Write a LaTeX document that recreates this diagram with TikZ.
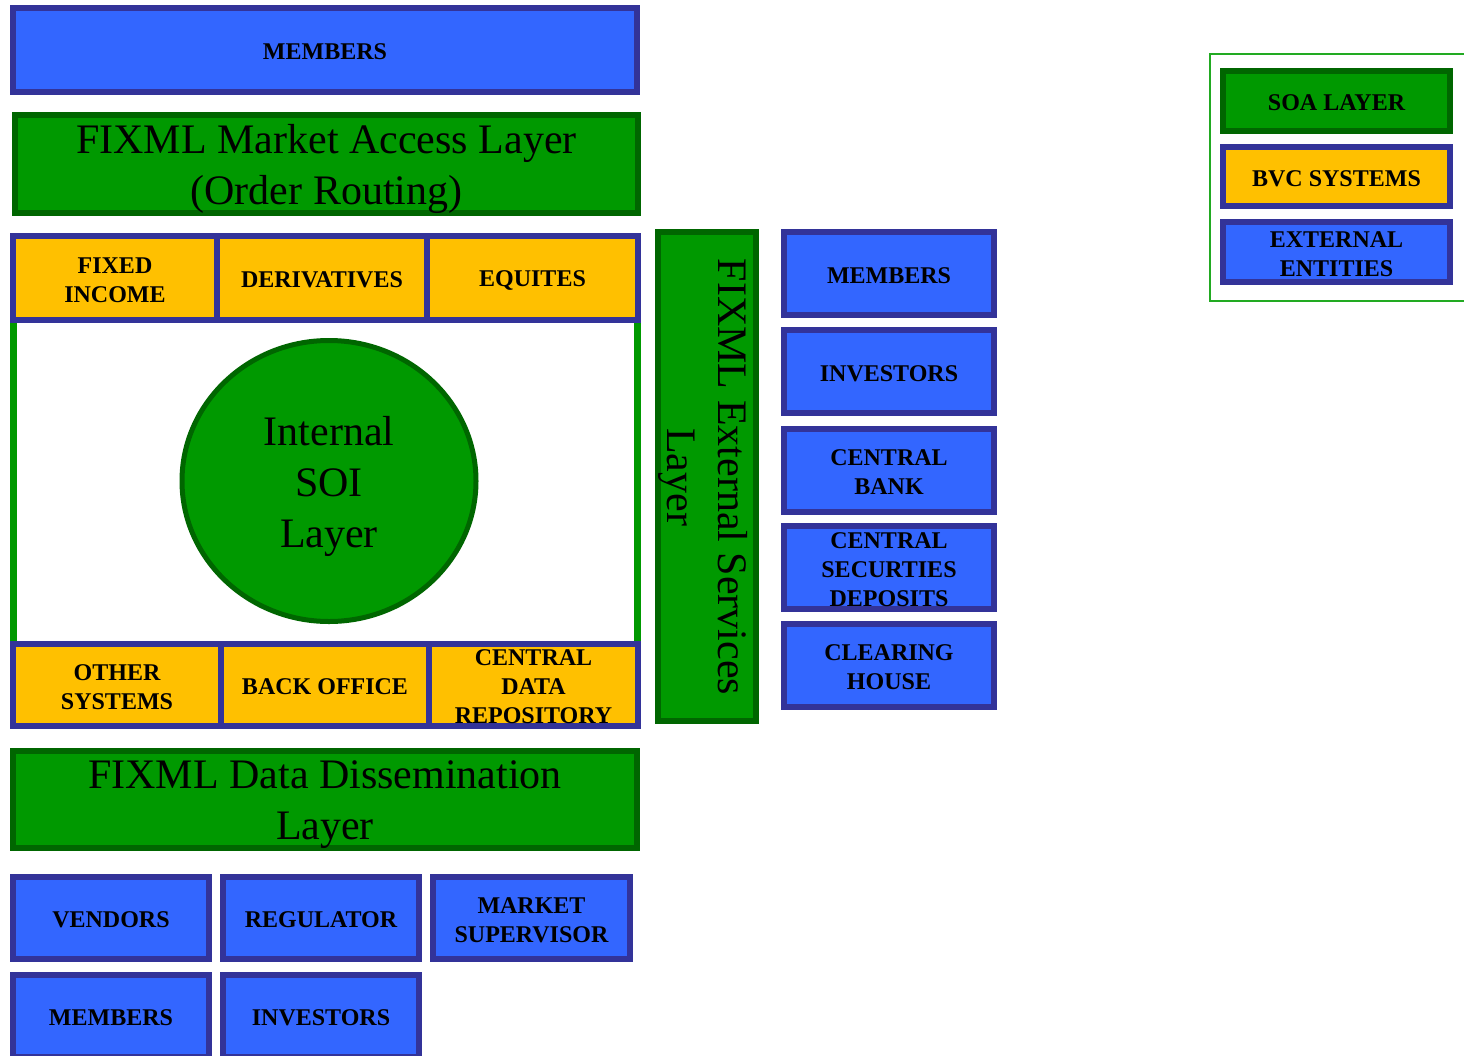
\documentclass[tikz,border=0pt]{standalone}
\usepackage{fontspec}
\setmainfont{Liberation Serif}
\usetikzlibrary{shapes.geometric}
\definecolor{bfill}{HTML}{3366FF}
\definecolor{bline}{HTML}{333399}
\definecolor{gfill}{HTML}{009900}
\definecolor{gline}{HTML}{006600}
\definecolor{yfill}{HTML}{FFC000}
\definecolor{frameg}{HTML}{22AA22}
\tikzset{
  smalltext/.style={inner sep=0pt, align=center, text=black, yshift=-2pt,
    font=\fontsize{24}{29}\selectfont\bfseries},
  bigtext/.style={inner sep=0pt, align=center, text=black, yshift=-5pt,
    font=\fontsize{42}{51}\selectfont},
  smlab/.style={label={[smalltext]center:#1}},
  biglab/.style={label={[bigtext]center:#1}},
  box/.style={rectangle, inner sep=0pt, outer sep=0pt, line width=6pt},
  bluebox/.style={box, draw=bline, fill=bfill},
  yellowbox/.style={box, draw=bline, fill=yfill},
  greenbox/.style={box, draw=gline, fill=gfill},
  biglayer/.style={box, draw=gline, fill=gfill},
}
\begin{document}
\begin{tikzpicture}[x=1pt,y=-1pt]
\useasboundingbox (0,0) rectangle (1464,1055);
\clip (0,0) rectangle (1464,1055);
% top
\node[bluebox, minimum width=624, minimum height=84, smlab={MEMBERS}] (mtop) at (325,50) {};
\node[biglayer, minimum width=623, minimum height=98, biglab={FIXML Market Access Layer\\(Order Routing)}] (mal) at (326.5,164) {};
% container
\node[rectangle, draw=gfill, fill=white, line width=7pt, inner sep=0pt, outer sep=0pt,
  minimum width=624, minimum height=478] (cont) at (325.5,475.5) {};
% top row
\node[yellowbox, minimum width=204, minimum height=84, smlab={FIXED\\INCOME}] (fi) at (115,278) {};
\node[yellowbox, minimum width=210, minimum height=84, smlab={DERIVATIVES}] (der) at (322,278) {};
\node[yellowbox, minimum width=211, minimum height=84, smlab={EQUITES}] (eq) at (532.5,278) {};
% circle
\node[ellipse, draw=gline, fill=gfill, line width=5pt, inner sep=0pt, outer sep=0pt,
  minimum width=294, minimum height=281, biglab={Internal\\SOI\\Layer}] (soi) at (329,481) {};
% bottom row
\node[yellowbox, minimum width=208, minimum height=82, smlab={OTHER\\SYSTEMS}] (os) at (117,685) {};
\node[yellowbox, minimum width=208, minimum height=82, smlab={BACK OFFICE}] (bo) at (325,685) {};
\node[yellowbox, minimum width=209, minimum height=82, smlab={CENTRAL\\DATA\\REPOSITORY}] (cdr) at (533.5,685) {};
% dissemination
\node[biglayer, minimum width=624, minimum height=97, biglab={FIXML Data Dissemination\\Layer}] (dd) at (325,799.5) {};
% vertical external services
\node[biglayer, minimum width=98, minimum height=489] (ext) at (707,476.5) {};
\node[inner sep=0pt, align=center, text=black, font=\fontsize{42}{51}\selectfont, rotate=-90] (exttext) at (703,477) {FIXML External Services\\Layer};
% right column
\node[bluebox, minimum width=210, minimum height=83, smlab={MEMBERS}] (rm) at (889,273.5) {};
\node[bluebox, minimum width=210, minimum height=83, smlab={INVESTORS}] (ri) at (889,371.5) {};
\node[bluebox, minimum width=210, minimum height=83, smlab={CENTRAL\\BANK}] (rcb) at (889,470.5) {};
\node[bluebox, minimum width=210, minimum height=83, smlab={CENTRAL\\SECURTIES\\DEPOSITS}] (rcsd) at (889,567.5) {};
\node[bluebox, minimum width=210, minimum height=83, smlab={CLEARING\\HOUSE}] (rch) at (889,665.5) {};
% bottom entities
\node[bluebox, minimum width=196, minimum height=82, smlab={VENDORS}] (ven) at (111,918) {};
\node[bluebox, minimum width=196, minimum height=82, smlab={REGULATOR}] (reg) at (321,918) {};
\node[bluebox, minimum width=197, minimum height=82, smlab={MARKET\\SUPERVISOR}] (ms) at (531.5,918) {};
\node[bluebox, minimum width=196, minimum height=82, smlab={MEMBERS}] (bm) at (111,1016) {};
\node[bluebox, minimum width=196, minimum height=82, smlab={INVESTORS}] (bi) at (321,1016) {};
% legend
\node[rectangle, draw=frameg, line width=2pt, inner sep=0pt, outer sep=0pt,
  minimum width=266, minimum height=247] (leg) at (1343,177.5) {};
\node[greenbox, minimum width=227, minimum height=60, smlab={SOA LAYER}] (lsoa) at (1336.5,101) {};
\node[yellowbox, minimum width=227, minimum height=59, smlab={BVC SYSTEMS}] (lbvc) at (1336.5,176.5) {};
\node[bluebox, minimum width=227, minimum height=60, smlab={EXTERNAL\\ENTITIES}] (lext) at (1336.5,252) {};
\end{tikzpicture}
\end{document}
